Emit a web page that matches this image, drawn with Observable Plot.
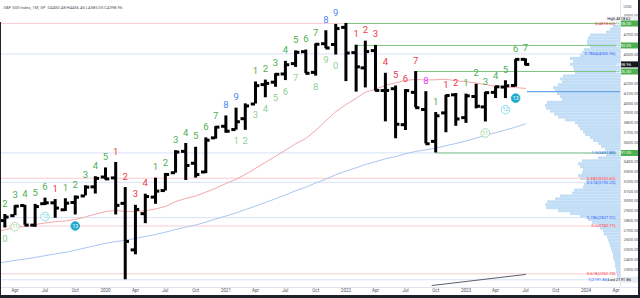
<!DOCTYPE html>
<html><head><meta charset="utf-8">
<script src="https://cdn.jsdelivr.net/npm/d3@7"></script>
<script src="https://cdn.jsdelivr.net/npm/@observablehq/plot@0.6"></script>
<style>
html,body{margin:0;padding:0;background:#fff;}
#wrap{position:relative;width:640px;height:298px;overflow:hidden;background:#fff;}
#wrap svg{position:absolute;left:0;top:0;}
.dec{position:absolute;}
</style></head><body>
<div id="wrap"></div>
<script>
// ---------- data ----------
const titleText = "S&P 500 Index, 1M, SP  O4450.48 H4456.46 L4385.05 C4398.96";
const months = ["2019-02","2019-03","2019-04","2019-05","2019-06","2019-07","2019-08","2019-09","2019-10","2019-11","2019-12",
"2020-01","2020-02","2020-03","2020-04","2020-05","2020-06","2020-07","2020-08","2020-09","2020-10","2020-11","2020-12",
"2021-01","2021-02","2021-03","2021-04","2021-05","2021-06","2021-07","2021-08","2021-09","2021-10","2021-11","2021-12",
"2022-01","2022-02","2022-03","2022-04","2022-05","2022-06","2022-07","2022-08","2022-09","2022-10","2022-11","2022-12",
"2023-01","2023-02","2023-03","2023-04","2023-05","2023-06","2023-07"];
const opens = [2702.32,2798.22,2848.63,2952.33,2751.53,2971.41,2980.32,2909.01,2983.69,3050.72,3143.85,
3244.67,3235.66,2974.28,2498.08,2869.09,3038.78,3105.92,3288.26,3507.44,3385.87,3296.20,3645.87,
3764.61,3731.17,3842.51,3992.78,4191.98,4216.52,4300.73,4406.86,4528.80,4317.16,4610.62,4602.82,
4778.14,4519.57,4363.14,4540.32,4130.61,4149.78,3781.00,4112.38,3936.73,3609.78,3901.79,4087.14,
3853.29,4070.07,3963.34,4112.16,4166.79,4183.03,4450.48];
const highs = [2813.49,2860.31,2949.52,2954.13,2964.15,3027.98,3013.59,3021.99,3050.10,3154.26,3247.93,
3337.77,3393.52,3136.72,2954.86,3068.67,3233.13,3279.99,3514.77,3588.11,3549.85,3645.99,3760.20,
3870.90,3950.43,3994.41,4218.78,4238.04,4302.43,4429.97,4537.36,4545.85,4608.08,4743.83,4808.93,
4818.62,4595.31,4637.30,4593.45,4307.66,4177.51,4140.15,4325.28,4119.28,3905.42,4080.11,4100.96,
4094.21,4195.44,4110.75,4170.06,4231.10,4448.47,4456.46];
const lows = [2681.83,2722.27,2848.63,2750.52,2728.81,2952.22,2822.12,2891.85,2855.94,3050.72,3070.33,
3214.64,2855.84,2191.86,2447.49,2766.64,2965.66,3101.17,3284.53,3209.45,3233.94,3279.74,3633.40,
3694.12,3725.62,3723.34,3992.78,4056.88,4164.40,4233.13,4367.73,4305.91,4278.94,4560.00,4495.12,
4222.62,4114.65,4157.87,4124.28,3810.32,3636.87,3721.56,3954.53,3584.13,3491.58,3698.15,3764.49,
3794.33,3943.08,3808.86,4049.35,4048.28,4166.19,4385.05];
const closes = [2784.49,2834.40,2945.83,2752.06,2941.76,2980.38,2926.46,2976.74,3037.56,3140.98,3230.78,
3225.52,2954.22,2584.59,2912.43,3044.31,3100.29,3271.12,3500.31,3363.00,3269.96,3621.63,3756.07,
3714.24,3811.15,3972.89,4181.17,4204.11,4297.50,4395.26,4522.68,4307.54,4605.38,4567.00,4766.18,
4515.55,4373.94,4530.41,4131.93,4132.15,3785.38,4130.29,3955.00,3585.62,3871.98,4080.11,3839.50,
4076.60,3970.15,4109.31,4169.48,4179.83,4450.38,4398.96];
const maRed = [2685.4,2703.6,2727.3,2738.9,2757.2,2773.9,2786.5,2794.2,2810.3,2835.4,2864.5,
2890.5,2902.3,2890.7,2891.3,2897.8,2917.2,2942.7,2992.4,3025.4,3049.6,3089.0,3129.5,
3177.6,3221.1,3270.7,3333.4,3394.8,3457.8,3520.5,3585.1,3639.2,3721.8,3820.9,3913.6,
3987.2,4050.8,4113.8,4145.4,4183.8,4209.6,4235.0,4245.0,4238.6,4241.6,4247.0,4229.9,
4223.5,4207.1,4192.8,4175.2,4168.8,4161.0,4152.6];
const maBlue = [2356.5,2373.3,2390.1,2403.8,2420.9,2438.4,2455.7,2473.1,2494.4,2518.8,2541.9,
2564.8,2583.0,2595.9,2615.5,2635.2,2655.9,2679.3,2707.4,2731.2,2753.1,2782.2,2814.8,
2845.1,2876.6,2910.4,2946.8,2983.6,3021.9,3061.5,3103.5,3140.3,3183.0,3223.9,3267.7,
3305.1,3339.1,3373.2,3401.6,3431.4,3454.2,3482.7,3507.4,3522.8,3542.2,3565.5,3588.1,
3614.4,3643.7,3671.8,3699.5,3726.4,3756.5,3789.4];

// TD counts: [month, label, colour key]
const tdAbove = [
["2019-03","2","g"],["2019-04","3","g"],["2019-05","4","g"],["2019-06","5","g"],["2019-07","6","g"],
["2019-08","1","r"],["2019-09","1","g"],["2019-10","2","g"],["2019-11","3","g"],["2019-12","4","g"],["2020-01","5","g"],
["2020-02","1","r"],["2020-03","2","r"],["2020-04","3","r"],["2020-05","4","r"],
["2020-06","1","g"],["2020-07","2","g"],["2020-08","3","g"],["2020-09","4","g"],["2020-10","5","g"],["2020-11","6","g"],["2020-12","7","g"],["2021-01","8","b"],["2021-02","9","b"],
["2021-04","1","g"],["2021-05","2","g"],["2021-06","3","g"],["2021-07","4","g"],["2021-08","5","g"],["2021-09","6","g"],["2021-10","7","g"],["2021-11","8","b"],["2021-12","9","b"],
["2022-02","1","r"],["2022-03","2","r"],["2022-04","3","r"],["2022-05","4","r"],["2022-06","5","r"],["2022-07","6","r"],["2022-08","7","r"],["2022-09","8","m"],
["2022-10","1","g"],["2022-11","1","r"],["2022-12","2","r"],["2023-01","1","g"],["2023-02","2","g"],["2023-03","3","g"],["2023-04","4","g"],["2023-05","5","g"],["2023-06","6","g"],["2023-07","7","g"]];
const tdBelow = [["2019-03","0"],["2021-02","1"],["2021-03","2"],["2021-04","3"],["2021-05","4"],["2021-06","5"],["2021-07","6"],["2021-08","7"],["2021-10","8"],["2021-11","9"],["2021-12","0"]];
const tdCircles = [["2019-04","11","c11"],["2019-07","12","c12"],["2019-10","13","c13"],["2023-03","11","c11"],["2023-05","12","c12"],["2023-06","13","c13"]];

// horizontal levels
const levelPrices = [4818, 4593, 4326, 3491];
const levelStarts = ["2022-01","2022-02","2022-08","2022-10"];
const fibRedPrices = [4818.62, 3232.62, 2742.71, 2252.70];
const fibRedLabels = ["0(4818.62)","0.382(3232.62)","0.5(2742.71)","0.618(2252.70)"];
const fibBluePrices = [4505.96, 3491.86, 3190.20, 2827.92, 2191.86];
const fibBlueLabels = ["0.7864(4505.96)","1.5(3491.86)","0.618(3190.20)","0.786(2827.92)","1(2191.86)"];
const trendDates = ["2022-09-20","2023-07-01"];
const trendPrices = [2133, 2246];

// volume profile (price bin centres, relative volume)
const profilePrices = [4815,4785,4755,4725,4695,4665,4635,4605,4575,4545,
4515,4485,4455,4425,4395,4365,4335,4305,4275,4245,
4215,4185,4155,4125,4095,4065,4035,4005,3975,3945,
3915,3885,3855,3825,3795,3765,3735,3705,3675,3645,
3615,3585,3555,3525,3495,3465,3435,3405,3375,3345,
3315,3285,3255,3225,3195,3165,3135,3105,3075,3045,
3015,2985,2955,2925,2895,2865,2835,2805,2775,2745,
2715,2685,2655,2625,2595,2565,2535,2505,2475,2445,
2415,2385,2355,2325,2295,2265,2235,2205];
const profileVolumes = [4,7,10,14,30,32,33,33,30,36,
38,40,50,47,50,47,46,45,57,60,
58,62,67,65,63,60,58,73,75,74,
70,66,62,55,45,42,40,37,35,30,
27,22,19,15,13,14,22,38,42,40,
37,38,42,40,34,36,37,46,48,60,
65,73,75,74,62,50,40,32,28,22,
20,17,16,13,12,11,10,9,8,7,
7,6,5,5,4,4,3,3];
const pocPrice = 4119, pocVolume = 93;

// axes
const priceTicks = [4900,4700,4500,4200,4100,4000,3900,3800,3700,3600,3400,3300,3200,3100,3000,2900,2800,2700,2600,2500,2400,2300];
const timeTicks = ["2019-04","2019-07","2019-10","2020-01","2020-04","2020-07","2020-10","2021-01","2021-04","2021-07","2021-10",
"2022-01","2022-04","2022-07","2022-10","2023-01","2023-04","2023-07","2023-10","2024-01","2024-04"];
const boxPrices = [4818, 4593, 4326, 3491, 4398.96, 2191.86];
const boxLabels = ["4818.00","4593.00","4326.00","3491.00","4398.96","2191.86"];
const boxKinds = ["lvl","lvl","lvl","lvl","last","low"];
const highPrice = 4818.62;

// ---------- build ----------
const d = s => new Date(s.length === 7 ? s + "-01T00:00:00Z" : s + "T00:00:00Z");
const bars = months.map((m, i) => ({date: d(m), open: opens[i], high: highs[i], low: lows[i], close: closes[i], ma1: maRed[i], ma2: maBlue[i]}));
const byMonth = new Map(months.map((m, i) => [m, bars[i]]));
const tdCol = {g: "#4caf50", r: "#f23645", b: "#4a86f5", m: "#e040fb"};
const above = tdAbove.map(([m, t, c]) => ({date: d(m), high: byMonth.get(m).high, t, fill: tdCol[c]}));
const below = tdBelow.map(([m, t]) => ({date: d(m), low: byMonth.get(m).low, t}));
const circStyle = {c11: {fill: "#ffffff", stroke: "#a5d6a7", tf: "#8bc98e"}, c12: {fill: "#ffffff", stroke: "#80d8ea", tf: "#5cc6de"}, c13: {fill: "#1fa9c9", stroke: "#1fa9c9", tf: "#ffffff"}};
const circ = tdCircles.map(([m, t, k]) => ({date: d(m), low: byMonth.get(m).low, t, ...circStyle[k]}));
const xEnd = d("2024-04-16");
const levels = levelPrices.map((p, i) => ({p, start: d(levelStarts[i])}));
const fibRed = fibRedPrices.map((p, i) => ({p, t: fibRedLabels[i]}));
const fibBlue = fibBluePrices.map((p, i) => ({p, t: fibBlueLabels[i]}));
const trend = trendDates.map((s, i) => ({date: d(s), p: trendPrices[i]}));
const profile = profilePrices.map((p, i) => ({p, v: profileVolumes[i]}));
const boxStyle = {lvl: {bg: "#4caf50", fg: "#ffffff"}, last: {bg: "#131722", fg: "#ffffff"}, low: {bg: "#e9ebf0", fg: "#131722"}};
const boxes = boxPrices.map((p, i) => ({p, t: boxLabels[i], ...boxStyle[boxKinds[i]]}));
const boxSymbol = {draw(ctx) { ctx.moveTo(-9.5, -3); ctx.lineTo(9.5, -3); ctx.lineTo(9.5, 3); ctx.lineTo(-9.5, 3); ctx.closePath(); }};
const smallBox = {draw(ctx) { ctx.moveTo(-4.3, -2.5); ctx.lineTo(4.3, -2.5); ctx.lineTo(4.3, 2.5); ctx.lineTo(-4.3, 2.5); ctx.closePath(); }};
const tfmt = d3.utcFormat("%b");

const common = {
  width: 640, height: 298, marginLeft: 0, marginRight: 20, marginTop: 0, marginBottom: 11,
  y: {domain: [2300, 4900], range: [268.7, 15], axis: null},
  color: {type: "identity"},
  style: {background: "transparent", fontFamily: "Roboto, 'DejaVu Sans', sans-serif", overflow: "visible"}
};

const profilePlot = Plot.plot({
  ...common,
  x: {domain: [0, 100], range: [620, 520], axis: null},
  marks: [
    Plot.rect(profile, {x1: () => 0, x2: "v", y1: r => r.p - 15.4, y2: r => r.p + 15.4, fill: "#c2ddf6"}),
    Plot.ruleY([{p: pocPrice, v: pocVolume}], {y: "p", x1: () => 0, x2: "v", stroke: "#6aa6e6", strokeWidth: 1.3})
  ]
});

const axisCol = "#50535e";
const mainPlot = Plot.plot({
  ...common,
  x: {type: "utc", domain: [d("2020-01"), d("2023-07")], range: [105, 525], axis: null},
  marks: [
    Plot.ruleY(fibRed, {y: "p", stroke: "#f8cdd0", strokeWidth: 1}),
    Plot.ruleY(fibBlue, {y: "p", stroke: "#d6e2f8", strokeWidth: 1}),
    Plot.line(bars, {x: "date", y: "ma2", stroke: "#a9c6f1", strokeWidth: 1, clip: true}),
    Plot.line(bars, {x: "date", y: "ma1", stroke: "#f4a7ab", strokeWidth: 1, clip: true}),
    Plot.ruleY(levels, {y: "p", x1: "start", x2: () => xEnd, stroke: "#80c683", strokeWidth: 1}),
    Plot.line(trend, {x: "date", y: "p", stroke: "#5d606b", strokeWidth: 1, clip: true}),
    Plot.ruleX(bars, {x: "date", y1: "low", y2: "high", stroke: "#000", strokeWidth: 3, clip: true}),
    Plot.ruleY(bars, {y: "open", x1: b => d3.utcDay.offset(b.date, -13), x2: "date", stroke: "#000", strokeWidth: 3, clip: true}),
    Plot.ruleY(bars, {y: "close", x1: "date", x2: b => d3.utcDay.offset(b.date, 13), stroke: "#000", strokeWidth: 3, clip: true}),
    Plot.text(above, {x: "date", y: "high", text: "t", fill: "fill", dy: -11, fontSize: 9.5}),
    Plot.text(below, {x: "date", y: "low", text: "t", fill: "#8fd093", dy: 11, fontSize: 9.5}),
    Plot.dot(circ, {x: "date", y: "low", dy: 11, r: 4.3, fill: "fill", stroke: "stroke", strokeWidth: 0.9}),
    Plot.text(circ, {x: "date", y: "low", dy: 11, text: "t", fill: "tf", fontSize: 5}),
    // fib labels
    Plot.text(fibRed, {y: "p", text: "t", fill: "#f23645", frameAnchor: "right", dx: -5, textAnchor: "end", fontSize: 4.2}),
    Plot.text(fibBlue.filter(f => f.p !== 2191.86), {y: "p", text: "t", fill: "#2962ff", frameAnchor: "right", dx: -5, textAnchor: "end", fontSize: 4.2}),
    Plot.text(fibBlue.filter(f => f.p === 2191.86), {y: "p", text: "t", fill: "#2962ff", frameAnchor: "right", dx: -12, textAnchor: "end", fontSize: 4.2}),
    Plot.dot([highPrice], {y: v => v, frameAnchor: "right", dx: -5.5, dy: -4.5, symbol: smallBox, fill: "#eef0f4", stroke: "none"}),
    Plot.text([highPrice], {y: v => v, text: () => "High", frameAnchor: "right", dx: -5.5, dy: -4.5, fill: "#131722", fontSize: 3.8}),
    Plot.dot([2191.86], {y: v => v, frameAnchor: "right", dx: -5.5, symbol: smallBox, fill: "#eef0f4", stroke: "none"}),
    Plot.text([2191.86], {y: v => v, text: () => "Low", frameAnchor: "right", dx: -5.5, fill: "#131722", fontSize: 3.8}),
    // price axis
    Plot.text(priceTicks, {y: v => v, text: v => v.toFixed(2), frameAnchor: "right", dx: 3, textAnchor: "start", fontSize: 4.3, fill: axisCol}),
    Plot.dot([highPrice], {y: v => v, frameAnchor: "right", dx: 10, dy: -4.3, symbol: boxSymbol, fill: "#eef0f4", stroke: "none"}),
    Plot.text([highPrice], {y: v => v, text: v => v.toFixed(2), frameAnchor: "right", dx: 10, dy: -4.3, fill: "#131722", fontSize: 3.9}),
    Plot.dot(boxes, {y: "p", frameAnchor: "right", dx: 10, symbol: boxSymbol, fill: "bg", stroke: "none"}),
    Plot.text(boxes, {y: "p", text: "t", frameAnchor: "right", dx: 10.5, fill: "fg", fontSize: 4.2}),
    Plot.text(["USD"], {frameAnchor: "top-right", dx: 3, dy: 5, textAnchor: "start", fontSize: 4.2, fill: axisCol}),
    // time axis
    Plot.text(timeTicks, {x: s => d(s), text: s => { const t = d(s); return t.getUTCMonth() === 0 ? String(t.getUTCFullYear()) : tfmt(t); }, frameAnchor: "bottom", dy: 4.5, fontSize: 4.5, fill: axisCol}),
    // title
    Plot.text([titleText], {frameAnchor: "top-left", dx: 3, dy: 6, textAnchor: "start", fontSize: 4.2, fill: axisCol})
  ]
});

const wrap = document.getElementById("wrap");
wrap.append(profilePlot, mainPlot);
function deco(l, t, w, h, c) {
  const e = document.createElement("div"); e.className = "dec";
  Object.assign(e.style, {left: l + "px", top: t + "px", width: w + "px", height: h + "px", background: c});
  wrap.append(e);
}
deco(620, 0, 1, 287, "#e0e3eb");
deco(0, 287, 638, 1, "#e0e3eb");
deco(638, 0, 2, 298, "#1e222d");
deco(0, 295, 640, 3, "#1e222d");
deco(0, 22, 1, 276, "#1e222d");
</script>
</body></html>
